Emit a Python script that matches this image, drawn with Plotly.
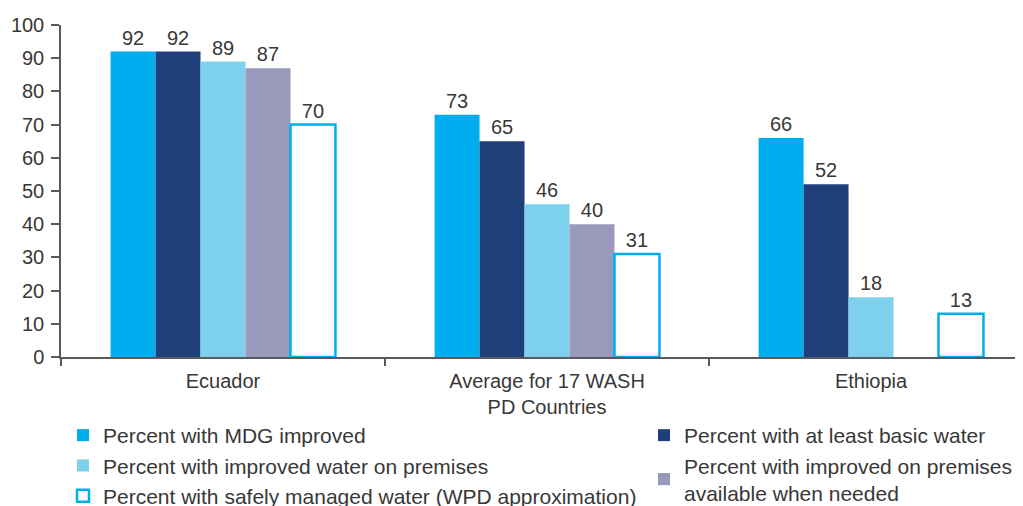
import plotly.graph_objects as go

categories = ["Ecuador", "Average for 17 WASH<br>PD Countries", "Ethiopia"]
series_names = [
    "Percent with MDG improved",
    "Percent with at least basic water",
    "Percent with improved water on premises",
    "Percent with improved on premises<br>available when needed",
    "Percent with safely managed water (WPD approximation)",
]
mdg_improved = [92, 73, 66]
basic_water = [92, 65, 52]
water_on_premises = [89, 46, 18]
available_when_needed = [87, 40, None]
safely_managed = [70, 31, 13]

values = [mdg_improved, basic_water, water_on_premises, available_when_needed, safely_managed]
fills = ["#00AEEF", "#1F3F7B", "#7DD1EC", "#9899BB", "#FFFFFF"]
lines = ["#00AEEF", "#1F3F7B", "#7DD1EC", "#9899BB", "#00AEEF"]
line_w = [0, 0, 0, 0, 2.5]
legends = ["legend", "legend2", "legend", "legend2", "legend"]

FONT = "Liberation Sans, Arial, sans-serif"
TXT = "#383838"

xpos = list(range(len(categories)))

fig = go.Figure()
for name, vals, fc, lc, lw, lg in zip(series_names, values, fills, lines, line_w, legends):
    fig.add_trace(go.Bar(
        x=xpos, y=vals, name=name,
        marker=dict(color=fc, line=dict(color=lc, width=lw)),
        text=[("" if v is None else str(v)) for v in vals],
        textposition="outside",
        textfont=dict(family=FONT, size=20, color=TXT),
        cliponaxis=False,
        legend=lg,
    ))

fig.update_layout(
    width=1023, height=506,
    margin=dict(l=53, r=8, t=17, b=157, autoexpand=False),
    paper_bgcolor="white", plot_bgcolor="white",
    barmode="group", bargap=0.306, bargroupgap=0,
    font=dict(family=FONT, size=20, color=TXT),
    xaxis=dict(
        range=[-0.5, 2.469], automargin=False,
        tickmode="array", tickvals=xpos, ticktext=categories, ticks="",
        ticklabelstandoff=5,
        showline=True, linecolor="#5a5a5a", linewidth=1.5,
        minor=dict(tickmode="linear", tick0=-0.5, dtick=1, ticks="outside",
                   ticklen=7, tickcolor="#5a5a5a", tickwidth=1.5, showgrid=False),
        showgrid=False, zeroline=False, tickfont=dict(size=20, color=TXT),
    ),
    yaxis=dict(
        range=[0, 100], dtick=10, automargin=False,
        showline=True, linecolor="#5a5a5a", linewidth=1.5,
        ticks="outside", ticklen=8, tickcolor="#5a5a5a", tickwidth=1.5,
        ticklabelstandoff=3,
        showgrid=False, zeroline=False, tickfont=dict(size=20, color=TXT),
    ),
    legend=dict(
        xref="container", yref="container", x=55/1023, y=1-407/506,
        xanchor="left", yanchor="top", orientation="v", tracegroupgap=0,
        font=dict(size=21, color=TXT), bgcolor="rgba(0,0,0,0)",
    ),
    legend2=dict(
        xref="container", yref="container", x=636/1023, y=1-407/506,
        xanchor="left", yanchor="top", orientation="v", tracegroupgap=0,
        font=dict(size=21, color=TXT), bgcolor="rgba(0,0,0,0)",
    ),
)

fig.write_html("out.html")
